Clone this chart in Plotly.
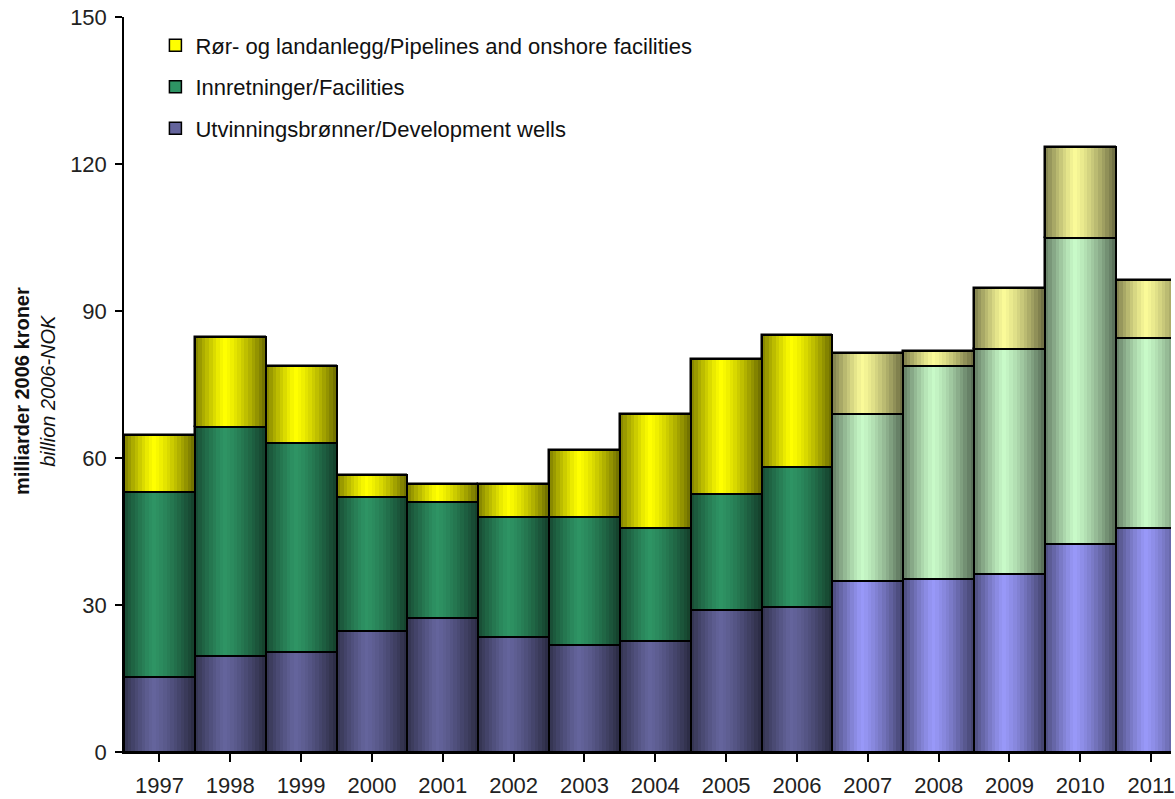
import plotly.graph_objects as go

years = ["1997", "1998", "1999", "2000", "2001", "2002", "2003", "2004",
         "2005", "2006", "2007", "2008", "2009", "2010", "2011"]
wells = [15.3, 19.6, 20.4, 24.7, 27.3, 23.5, 21.8, 22.7, 29.0, 29.6, 34.9, 35.3, 36.3, 42.4, 45.7]
facilities = [37.8, 46.7, 42.7, 27.3, 23.7, 24.5, 26.2, 23.0, 23.7, 28.6, 34.1, 43.5, 45.9, 62.5, 38.8]
pipelines = [11.5, 18.4, 15.6, 4.5, 3.7, 6.7, 13.6, 23.3, 27.5, 26.9, 12.4, 3.0, 12.5, 18.6, 11.8]
first_forecast_year = "2007"

names = {
    "pipe": "Rør- og landanlegg/Pipelines and onshore facilities",
    "fac": "Innretninger/Facilities",
    "well": "Utvinningsbrønner/Development wells",
}

# peak colours (historical, forecast)
peak = {
    "pipe": ((255, 255, 0), (250, 250, 152)),
    "fac": ((46, 148, 100), (200, 250, 200)),
    "well": ((100, 100, 156), (152, 152, 248)),
}

fc_idx = years.index(first_forecast_year)
n = len(years)
x = list(range(n))

base_well = [0.0] * n
base_fac = wells[:]
base_pipe = [w + f for w, f in zip(wells, facilities)]

series = [
    ("pipe", pipelines, base_pipe),
    ("fac", facilities, base_fac),
    ("well", wells, base_well),
]


def shade(rgb, f):
    return "rgb(%d,%d,%d)" % tuple(max(0, min(255, round(c * f))) for c in rgb)


def factor(t):
    p = 0.42
    if t < p:
        g = ((p - t) / p) ** 1.2
        return 1 - 0.5 * g
    g = ((t - p) / (1 - p)) ** 1.3
    return 1 - 0.58 * g


fig = go.Figure()
FONT = "Arial, 'Liberation Sans', sans-serif"

# base bars (legend entries)
for key, vals, base in series:
    hist, fore = peak[key]
    cols = [shade(hist if i < fc_idx else fore, 1.0) for i in range(n)]
    fig.add_trace(go.Bar(
        x=x, y=vals, base=base, width=1, offset=-0.5,
        marker=dict(color=cols, line=dict(color="black", width=1.5)),
        name=names[key], legendgroup=key, showlegend=True, hoverinfo="skip",
    ))

# gradient strips
N = 20
for key, vals, base in series:
    hist, fore = peak[key]
    for s in range(N):
        t = (s + 0.5) / N
        f = factor(t)
        cols = [shade(hist if i < fc_idx else fore, f) for i in range(n)]
        w = 1 / N + (0.012 if s < N - 1 else 0)
        fig.add_trace(go.Bar(
            x=x, y=vals, base=base, width=w, offset=-0.5 + s / N,
            marker=dict(color=cols, line=dict(width=0)),
            showlegend=False, hoverinfo="skip", legendgroup=key,
        ))

# outlines
for key, vals, base in series:
    fig.add_trace(go.Bar(
        x=x, y=vals, base=base, width=1, offset=-0.5,
        marker=dict(color="rgba(0,0,0,0)", line=dict(color="black", width=2)),
        showlegend=False, hoverinfo="skip", legendgroup=key,
    ))

fig.update_layout(
    width=1175, height=799,
    margin=dict(l=124, r=0, t=17, b=47),
    paper_bgcolor="white", plot_bgcolor="white",
    barmode="overlay", bargap=0,
    font=dict(family=FONT, color="#222"),
    showlegend=True,
    legend=dict(
        x=0.03, y=0.99, xanchor="left", yanchor="top",
        font=dict(size=22, color="#111", family=FONT),
        traceorder="grouped", tracegroupgap=10,
        bgcolor="rgba(0,0,0,0)",
    ),
    xaxis=dict(
        range=[-0.5, 14.28],
        tickmode="array", tickvals=x, ticktext=years,
        tickson="boundaries", ticks="outside", ticklen=8, tickwidth=1.5, tickcolor="black",
        showline=True, linecolor="black", linewidth=1.5,
        showgrid=False, zeroline=False,
        tickfont=dict(size=22, color="#222"),
        ticklabelstandoff=5, ticklabeloverflow="allow",
    ),
    yaxis=dict(
        range=[0, 150], tickvals=[0, 30, 60, 90, 120, 150],
        ticks="outside", ticklen=7, tickwidth=1.5, tickcolor="black",
        showline=True, linecolor="black", linewidth=1.5,
        showgrid=False, zeroline=False,
        tickfont=dict(size=22, color="#222"),
        ticklabelstandoff=4,
    ),
    annotations=[dict(
        xref="paper", yref="paper", x=0, y=0.491, xshift=-89,
        xanchor="center", yanchor="middle", textangle=-90, showarrow=False,
        text="<b>milliarder 2006 kroner</b><br><i>billion 2006-NOK</i>",
        font=dict(size=20, color="#111", family=FONT),
    )],
)

fig.write_html("out.html")
